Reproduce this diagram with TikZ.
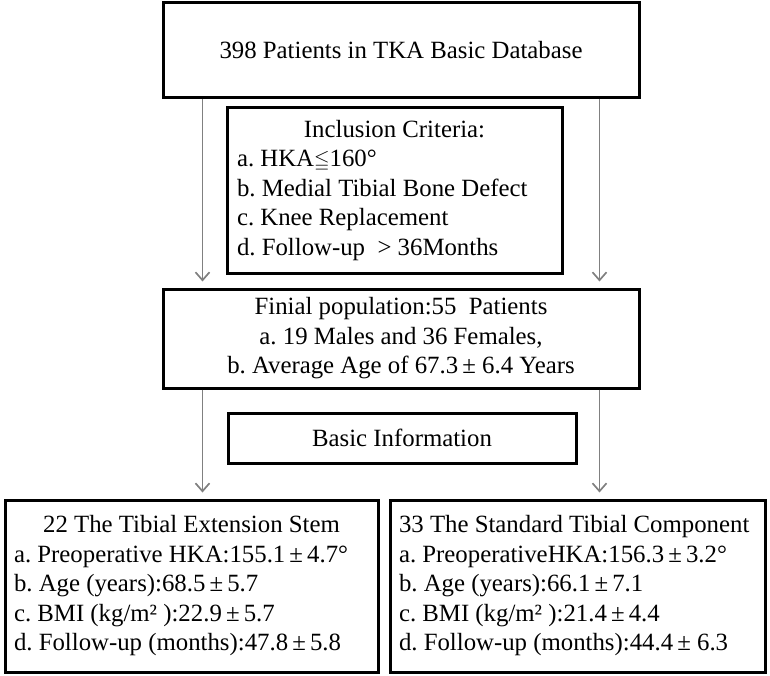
\documentclass[tikz,border=0pt]{standalone}
\usepackage{fontspec}
\usepackage{amsmath}
\usepackage{amssymb}
\setmainfont{Liberation Serif}
\usetikzlibrary{arrows.meta}

\tikzset{
	box/.style={draw, line width=3pt, rectangle},
	arr/.style={draw=gray, line width=1.7pt, -{Straight Barb[length=8pt,width=14pt]}, shorten >=6pt}
}

\begin{document}
\frenchspacing
\begin{tikzpicture}[x=1pt, y=-1pt, font=\fontsize{24.8}{29.5}\selectfont]
		\useasboundingbox (0,0) rectangle (770,676);

		\node[box, minimum width=476pt, minimum height=95pt] (db) at (401,50.5) {398 Patients in TKA Basic Database};

		\node[box, text width=315pt, inner xsep=10pt, minimum height=165pt, align=flush left] (incl) at (394.5,190.5) {\makebox[\linewidth]{Inclusion Criteria:}\\
			a. HKA{\fontsize{20}{20}\selectfont$\leqq$}160°\\
			b. Medial Tibial Bone Defect\\
			c. Knee Replacement\\
			d. Follow-up~ > 36Months};

		\node[box, minimum width=476pt, minimum height=99pt, align=center] (final) at (401,338.5) {Finial population:55~ Patients\\
			a. 19 Males and 36 Females,\\
			b. Average Age of 67.3\,± 6.4 Years};

		\node[box, minimum width=348pt, minimum height=50pt] (basic) at (402,438) {Basic Information};

		\node[box, text width=355pt, inner xsep=9pt, minimum height=172pt, align=flush left] (stem) at (191.5,586) {\makebox[\linewidth]{22 The Tibial Extension Stem}\\
			a. Preoperative HKA:155.1\,±\,4.7°\\
			b. Age (years):68.5\,±\,5.7\\
			c. BMI (kg/m² ):22.9\,±\,5.7\\
			d. Follow-up (months):47.8\,±\,5.8};

		\node[box, text width=357pt, inner xsep=9pt, minimum height=172pt, align=flush left] (std) at (577.5,586) {33 The Standard Tibial Component\\
			a. PreoperativeHKA:156.3\,±\,3.2°\\
			b. Age (years):66.1\,±\,7.1\\
			c. BMI (kg/m² ):21.4\,±\,4.4\\
			d. Follow-up (months):44.4\,± 6.3};

		\draw[arr] ([xshift=41pt]db.south west) -- ([xshift=41pt]db.south west |- final.north);
		\draw[arr] ([xshift=-41pt]db.south east) -- ([xshift=-41pt]db.south east |- final.north);
		\draw[arr] ([xshift=41pt]final.south west) -- ([xshift=41pt]final.south west |- stem.north);
		\draw[arr] ([xshift=-41pt]final.south east) -- ([xshift=-41pt]final.south east |- std.north);

	\end{tikzpicture}
\end{document}
